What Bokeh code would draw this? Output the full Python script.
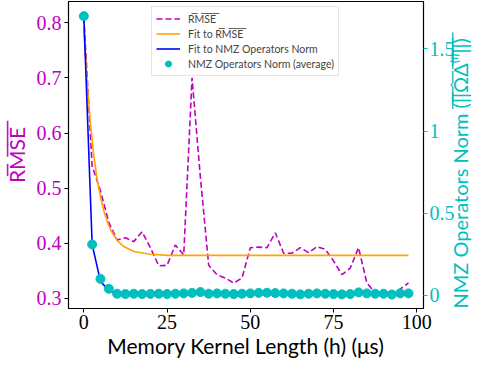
import numpy as np
from bokeh.plotting import figure
from bokeh.models import Range1d, LinearAxis, Legend, LegendItem, FixedTicker
from bokeh.embed import file_html
from bokeh.resources import INLINE

# memory kernel lengths (us)
kernel_len = [0, 2.5, 5, 7.5, 10, 12.5, 15, 17.5, 20, 22.5, 25, 27.5, 30, 32.5, 35, 37.5,
              40, 42.5, 45, 47.5, 50, 52.5, 55, 57.5, 60, 62.5, 65, 67.5, 70, 72.5, 75,
              77.5, 80, 82.5, 85, 87.5, 90, 92.5, 95, 97.5]

# average RMSE (left axis)
rmse = [0.81, 0.54, 0.495, 0.438, 0.406, 0.41, 0.403, 0.421, 0.392, 0.359, 0.36, 0.397,
        0.379, 0.70, 0.52, 0.36, 0.343, 0.337, 0.328, 0.337, 0.392, 0.393, 0.392, 0.419,
        0.382, 0.382, 0.392, 0.383, 0.394, 0.389, 0.368, 0.343, 0.355, 0.392, 0.328, 0.31,
        0.308, 0.305, 0.317, 0.328]

# fit to RMSE (left axis)
fit_rmse_x = [0, 1, 2, 3, 4, 5, 6, 7, 8, 10, 12, 15, 20, 25, 30, 50, 75, 97.5]
fit_rmse_y = [0.788, 0.691, 0.616, 0.559, 0.516, 0.484, 0.459, 0.440, 0.425, 0.405,
              0.394, 0.385, 0.380, 0.378, 0.378, 0.378, 0.378, 0.378]

# NMZ operators norm average (right axis)
nmz_norm = [1.70, 0.31, 0.10, 0.04, 0.01, 0.008, 0.01, 0.008, 0.009, 0.01, 0.008, 0.01,
            0.012, 0.015, 0.02, 0.01, 0.012, 0.01, 0.008, 0.01, 0.012, 0.015, 0.016, 0.014,
            0.012, 0.01, 0.006, 0.01, 0.012, 0.01, 0.008, 0.006, 0.008, 0.018, 0.012, 0.01,
            0.01, 0.005, 0.012, 0.012]

# fit to NMZ operators norm (right axis)
fit_nmz = [1.70, 0.31, 0.085, 0.03, 0.013, 0.01, 0.01, 0.01, 0.01, 0.01, 0.01, 0.01,
           0.01, 0.01, 0.01, 0.01, 0.01, 0.01, 0.01, 0.01, 0.01, 0.01, 0.01, 0.01,
           0.01, 0.01, 0.01, 0.01, 0.01, 0.01, 0.01, 0.01, 0.01, 0.01, 0.01, 0.01,
           0.01, 0.01, 0.01, 0.01]

x_ticks = [0, 25, 50, 75, 100]
left_ticks = [0.3, 0.4, 0.5, 0.6, 0.7, 0.8]
right_ticks = [0.0, 0.5, 1.0, 1.5]

MAG = "#bf00bf"
CYAN = "#00bfbf"
SERIF = "Liberation Serif"
SANS = "Lato"

p = figure(width=486, height=360, output_backend="svg", toolbar_location=None,
           x_range=Range1d(-4.6, 102), y_range=Range1d(0.2817, 0.8385),
           min_border_top=1, min_border_left=0, min_border_right=0, min_border_bottom=0)
p.extra_y_ranges = {"right": Range1d(-0.08, 1.789)}
p.grid.visible = False
p.outline_line_color = "black"
p.outline_line_width = 1.2
p.background_fill_color = "white"
p.border_fill_color = "white"

r_rmse = p.line(kernel_len, rmse, line_color=MAG, line_width=1.6, line_dash="6 3")
r_fit_rmse = p.line(fit_rmse_x, fit_rmse_y, line_color="orange", line_width=1.6)
r_fit_nmz = p.line(kernel_len, fit_nmz, line_color="blue", line_width=1.6, y_range_name="right")
r_nmz = p.scatter(kernel_len, nmz_norm, size=9, fill_color=CYAN, line_color=CYAN,
                  y_range_name="right")
r_bar = p.scatter([float("nan")], [float("nan")], marker="dash", angle=np.pi / 2, size=13,
                  line_color=CYAN, line_width=2, y_range_name="right")

# axes styling
xa = p.xaxis[0]
xa.ticker = FixedTicker(ticks=x_ticks)
xa.axis_label = "Memory Kernel Length (h) (μs)"
ya = p.yaxis[0]
ya.ticker = FixedTicker(ticks=left_ticks)
ya.axis_label = "R\u0305M\u0305S\u0305E\u0305"

ra = LinearAxis(y_range_name="right", ticker=FixedTicker(ticks=right_ticks),
                axis_label="NMZ Operators Norm (\u0305|\u0305|\u0305Ω\u0302\u0305Δ\u0305⁽\u0305ˡ\u0305⁾\u0305|\u0305|\u0305)\u0305")
props = ra.properties()
if "axis_label_orientation" in props:
    ra.axis_label_orientation = np.pi / 2
if "axis_label_align" in props:
    ra.axis_label_align = "start"
p.add_layout(ra, "right")

for ax in (xa, ya, ra):
    ax.axis_line_color = None
    ax.major_tick_line_color = "black"
    ax.major_tick_out = 4
    ax.major_tick_in = 0
    ax.minor_tick_line_color = None
    ax.major_label_text_font = SERIF
    ax.major_label_text_font_size = "20px"
    ax.major_label_standoff = 2
    ax.axis_label_text_font = SANS
    ax.axis_label_text_font_size = "21px"
    ax.axis_label_text_font_style = "normal"
    ax.axis_label_standoff = 1

ya.axis_label_standoff = 5
ya.major_label_standoff = 3
ra.axis_label_text_font_size = "20px"
ra.axis_label_standoff = 2
xa.major_label_text_color = "black"
xa.axis_label_text_color = "black"
ya.major_label_text_color = MAG
ya.axis_label_text_color = MAG
ra.major_label_text_color = CYAN
ra.axis_label_text_color = CYAN
ra.major_tick_line_color = CYAN

legend = Legend(items=[
    LegendItem(label="R\u0305M\u0305S\u0305E\u0305", renderers=[r_rmse]),
    LegendItem(label="Fit to R\u0305M\u0305S\u0305E\u0305", renderers=[r_fit_rmse]),
    LegendItem(label="Fit to NMZ Operators Norm", renderers=[r_fit_nmz]),
    LegendItem(label="NMZ Operators Norm (average)", renderers=[r_bar, r_nmz]),
], location=(83, 232))
legend.label_text_font = SANS
legend.label_text_font_size = "10.5px"
legend.glyph_width = 24
legend.glyph_height = 15
legend.label_height = 15
legend.spacing = 0
legend.padding = 4
legend.margin = 0
legend.label_standoff = 8
legend.border_line_color = "#cccccc"
legend.background_fill_alpha = 0.85
p.add_layout(legend, "center")

open("out.html", "w").write(file_html(p, INLINE))
